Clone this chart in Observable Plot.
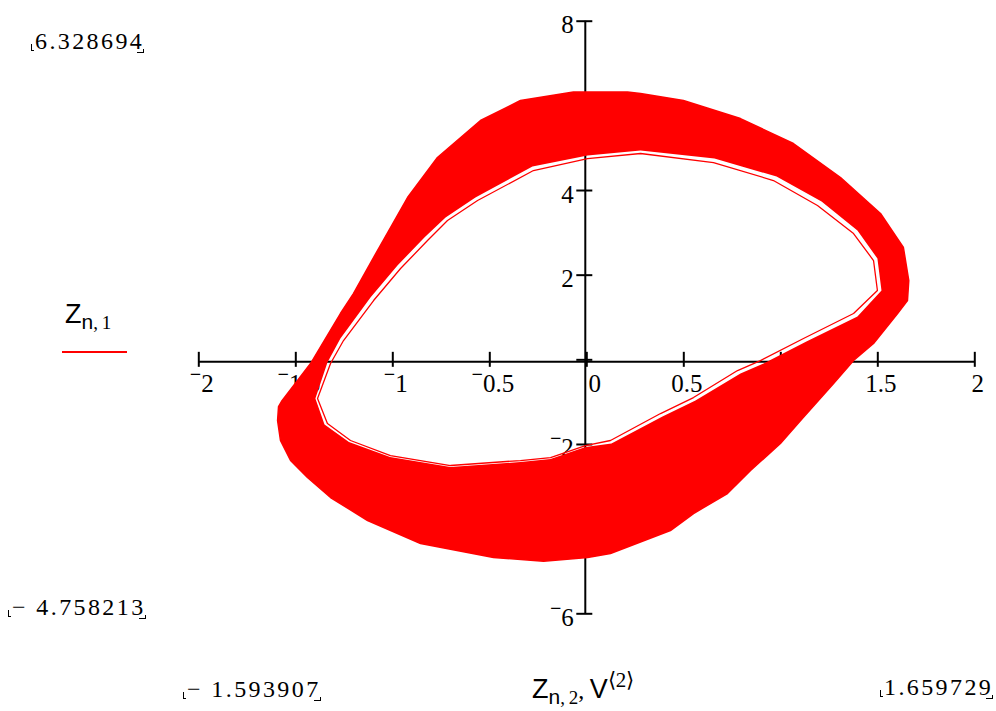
<!DOCTYPE html>
<html>
<head>
<meta charset="utf-8">
<script src="https://cdn.jsdelivr.net/npm/d3@7"></script>
<script src="https://cdn.jsdelivr.net/npm/@observablehq/plot@0.6"></script>
<style>
  html, body { margin: 0; padding: 0; background: #fff; }
  #wrap { position: relative; width: 996px; height: 711px; overflow: hidden; background: #fff; }
  #wrap svg { position: absolute; left: 0; top: 0; }
  .lbl { position: absolute; white-space: nowrap; color: #000; line-height: 1; }
  .serif { font-family: "Liberation Serif", "Times New Roman", serif; }
  .sans { font-family: "Liberation Sans", Arial, sans-serif; }
  .corner { font-family: "Liberation Serif", serif; font-size: 24px; letter-spacing: 2.4px; }
  /* Mathcad-style placeholder corners around the range readouts */
  .corner::before { content: ""; position: absolute; left: -4px; top: 15px; width: 2px; height: 6px;
                    border-left: 1.5px solid #000; border-bottom: 1.5px solid #000; }
  .corner::after  { content: ""; position: absolute; right: 0px; top: 20px; width: 6px; height: 3px;
                    border-right: 1.5px solid #000; border-bottom: 1.5px solid #000; }
  .legend-line { position: absolute; left: 62px; top: 351px; width: 65px; height: 2px; background: #ff0000; }
</style>
</head>
<body>
<div id="wrap"></div>
<script>
// Axis ticks and their labels (axes cross at the origin)
const xTicks = [-2, -1.5, -1, -0.5, 0.5, 1, 1.5, 2];
const xTickLabels = ["−2", "−1.5", "−1", "−0.5", "0.5", "1", "1.5", "2"];
const xOrigin = [0];
const xOriginLabel = ["0"];
const yTicks = [-6, -4, -2, 0, 2, 4, 6, 8];
const yTickLabels = ["−6", "−4", "−2", "", "2", "4", "6", "8"];

// Plotted range readouts shown in the corners
const yRangeLabels = ["6.328694", "− 4.758213"];
const xRangeLabels = ["− 1.593907", "1.659729"];

// Outer envelope of the trajectory (Z_{n,2}, Z_{n,1}), traced clockwise
const outerOrbit = [
  [-1.589, -1.103], [-1.574, -0.985], [-1.424, -0.087], [-1.270, 1.094], [-1.203, 1.566],
  [-1.079, 2.582], [-0.924, 3.834], [-0.770, 4.779], [-0.548, 5.653], [-0.342, 6.126],
  [-0.069, 6.327], [0.210, 6.3287], [0.277, 6.291], [0.498, 6.126], [0.792, 5.700],
  [1.065, 5.110], [1.308, 4.307], [1.514, 3.456], [1.632, 2.653], [1.6597, 1.873],
  [1.653, 1.401], [1.602, 1.094], [1.478, 0.385], [1.375, -0.017], [1.272, -0.560],
  [1.102, -1.434], [0.998, -1.977], [0.844, -2.615], [0.725, -3.159], [0.550, -3.631],
  [0.431, -4.033], [0.122, -4.576], [0.004, -4.670], [-0.223, -4.7582], [-0.481, -4.670],
  [-0.857, -4.340], [-1.130, -3.796], [-1.321, -3.253], [-1.440, -2.781], [-1.527, -2.379],
  [-1.579, -1.906], [-1.5939, -1.434]
];

// Inner edge of the dense bundle of cycles
const bundleInnerEdge = [
  [-1.399, -0.914], [-1.337, -0.064], [-1.270, 0.503], [-1.115, 1.472], [-0.976, 2.228],
  [-0.837, 2.889], [-0.728, 3.362], [-0.574, 3.834], [-0.280, 4.567], [0.004, 4.826],
  [0.277, 4.945], [0.658, 4.755], [0.978, 4.330], [1.210, 3.740], [1.395, 3.055],
  [1.498, 2.393], [1.519, 1.637], [1.395, 1.023], [1.132, 0.432], [0.911, -0.087],
  [0.792, -0.324], [0.560, -0.962], [0.390, -1.339], [0.127, -1.977], [-0.007, -2.060],
  [-0.187, -2.343], [-0.342, -2.414], [-0.703, -2.532], [-1.014, -2.296], [-1.226, -1.942],
  [-1.352, -1.528]
];

// Innermost single cycle, bounding the empty centre
const innerOrbit = [
  [-1.388, -0.914], [-1.321, -0.087], [-1.254, 0.456], [-1.099, 1.401], [-0.960, 2.157],
  [-0.821, 2.818], [-0.718, 3.291], [-0.563, 3.763], [-0.275, 4.472], [0.004, 4.755],
  [0.277, 4.874], [0.653, 4.661], [0.962, 4.236], [1.189, 3.645], [1.375, 2.984],
  [1.478, 2.346], [1.498, 1.637], [1.375, 1.094], [1.117, 0.503], [0.895, -0.017],
  [0.777, -0.253], [0.550, -0.891], [0.380, -1.269], [0.122, -1.906], [-0.007, -2.025],
  [-0.187, -2.308], [-0.342, -2.379], [-0.703, -2.497], [-1.012, -2.261], [-1.218, -1.906],
  [-1.337, -1.505]
];

// Band between the outer envelope and the bundle's inner edge (outer clockwise, inner reversed)
const band = outerOrbit.concat(
  [outerOrbit[0], bundleInnerEdge[0]],
  bundleInnerEdge.slice(1).reverse(),
  [bundleInnerEdge[0]]
);

const RED = "#ff0000";

// Short tick glyphs drawn centred on the axis lines
const vTick = { draw(ctx) { ctx.moveTo(0, -8); ctx.lineTo(0, 7); } };
const hTick = { draw(ctx) { ctx.moveTo(-9, 0); ctx.lineTo(7, 0); } };

const chart = Plot.plot({
  width: 996,
  height: 711,
  marginLeft: 198.3,
  marginRight: 21.7,
  marginTop: 20.7,
  marginBottom: 97.7,
  x: { domain: [-2, 2], axis: null },
  y: { domain: [-6, 8], axis: null },
  style: { background: "transparent", fontFamily: "Liberation Serif, Times New Roman, serif", overflow: "visible" },
  marks: [
    // crossed axes
    Plot.ruleY([0], { x1: -2, x2: 2, stroke: "#000", strokeWidth: 2, dy: 2 }),
    Plot.ruleX([0], { y1: -6, y2: 8, stroke: "#000", strokeWidth: 2, dx: -1.5 }),
    Plot.dot(xTicks.concat(xOrigin), { x: d => d, y: 0, symbol: vTick, stroke: "#000", fill: "none", strokeWidth: 2 }),
    Plot.dot(yTicks, { x: 0, y: d => d, symbol: hTick, stroke: "#000", fill: "none", strokeWidth: 2, dx: -1.5 }),
    Plot.text(xTicks, { x: d => d, y: 0, text: (d, i) => xTickLabels[i], fontSize: 25, dx: 3, dy: 24, fill: "#000" }),
    Plot.text(xOrigin, { x: d => d, y: 0, text: (d, i) => xOriginLabel[i], fontSize: 25, dx: 8, dy: 24, fill: "#000" }),
    Plot.text(yTicks, { x: 0, y: d => d, text: (d, i) => yTickLabels[i], fontSize: 25, textAnchor: "end", dx: -13, dy: 4, fill: "#000" }),
    // Z_{n,1} against Z_{n,2}: the dense bundle of cycles
    Plot.line(band, { x: d => d[0], y: d => d[1], fill: RED, stroke: "none" }),
    Plot.line(outerOrbit, { x: d => d[0], y: d => d[1], stroke: RED, strokeWidth: 1.5, curve: "linear-closed" }),
    Plot.line(innerOrbit, { x: d => d[0], y: d => d[1], stroke: RED, strokeWidth: 1.3, curve: "linear-closed" })
  ]
});

// Mathcad sets the minus sign of axis numbers high, level with the digit tops
chart.querySelectorAll("text").forEach(t => {
  const s = t.textContent;
  if (s.startsWith("−")) {
    t.textContent = "";
    const ns = "http://www.w3.org/2000/svg";
    const m = document.createElementNS(ns, "tspan");
    m.textContent = "−";
    m.setAttribute("font-size", "20");
    m.setAttribute("font-weight", "bold");
    m.setAttribute("dy", "-11");
    const r = document.createElementNS(ns, "tspan");
    r.textContent = s.slice(1);
    r.setAttribute("dy", "11");
    t.appendChild(m);
    t.appendChild(r);
  }
});

const wrap = document.getElementById("wrap");
wrap.appendChild(chart);

function addLabel(html, cls, left, top) {
  const d = document.createElement("div");
  d.className = "lbl " + cls;
  d.style.left = left + "px";
  d.style.top = top + "px";
  d.innerHTML = html;
  wrap.appendChild(d);
  return d;
}

// range readouts
addLabel(yRangeLabels[0], "corner", 35, 29);
addLabel(yRangeLabels[1], "corner", 12, 595);
addLabel(xRangeLabels[0], "corner", 187, 677);
addLabel(xRangeLabels[1], "corner", 884, 675);

// legend
addLabel(
  '<span class="sans" style="font-size:27px">Z</span>' +
  '<span style="position:relative;top:6px"><span class="sans" style="font-size:21px">n</span>' +
  '<span class="serif" style="font-size:19px">,&thinsp;1</span></span>',
  "", 65, 301);
const line = document.createElement("div");
line.className = "legend-line";
wrap.appendChild(line);

// x-axis title
addLabel(
  '<span class="sans" style="font-size:27px">Z</span>' +
  '<span style="position:relative;top:6px"><span class="sans" style="font-size:21px">n</span>' +
  '<span class="serif" style="font-size:19px">,&thinsp;2</span></span>' +
  '<span class="serif" style="font-size:24px">,</span>' +
  '<span class="sans" style="font-size:27px">&thinsp;V</span>' +
  '<span class="serif" style="font-size:21px;position:relative;top:-11px">⟨2⟩</span>',
  "", 532, 676);
</script>
</body>
</html>
